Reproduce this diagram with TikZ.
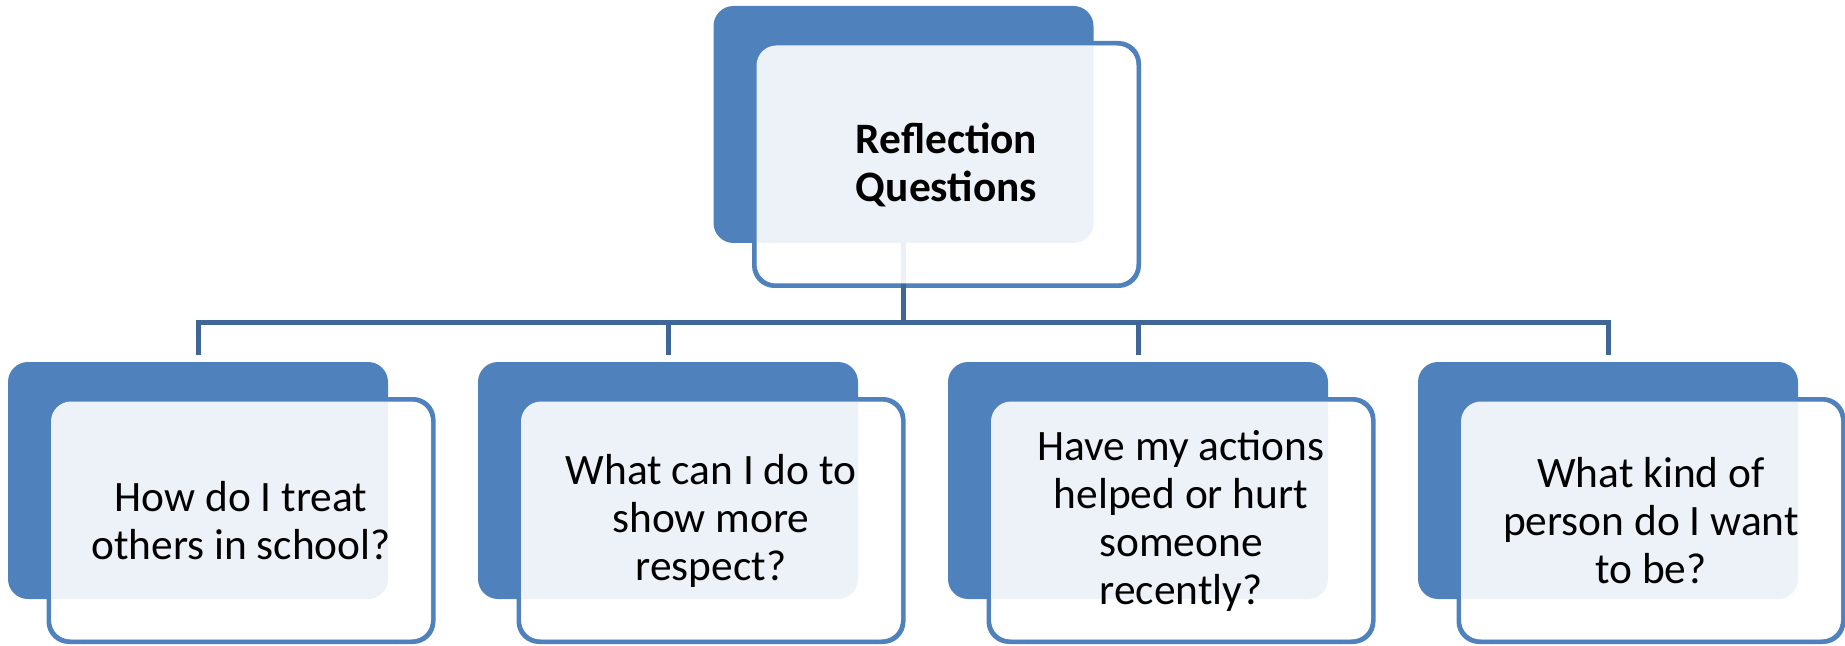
\documentclass[tikz,border=0pt]{standalone}
\usepackage{fontspec}
\setmainfont{Carlito}
\usetikzlibrary{positioning}
\definecolor{boxblue}{HTML}{4F81BD}
\definecolor{linkblue}{HTML}{3F6696}
\tikzset{
  backbox/.style={rectangle, rounded corners=10pt, fill=boxblue,
    minimum width=190pt, minimum height=118.5pt},
  frontbox/.style={rectangle, rounded corners=10pt, draw=boxblue, line width=2.5pt,
    fill=white, minimum width=192pt, minimum height=121pt},
  veil/.style={rectangle, rounded corners=10pt, fill=white, fill opacity=.9,
    text opacity=1, minimum width=190pt, minimum height=119pt, align=center,
    font=\fontsize{21.7pt}{24pt}\selectfont},
  link/.style={draw=linkblue, line width=2.5pt}
}
\begin{document}
\begin{tikzpicture}[x=0.5pt, y=-0.5pt]
    \useasboundingbox (0, 0) rectangle (1845, 646);
    % front frames first, the blue boxes lie on them
    \node[frontbox] (f0) at (946.5, 164.5) {};
    \node[frontbox] (f1) at (241, 520.5) {};
    \node[frontbox] (f2) at (711, 520.5) {};
    \node[frontbox] (f3) at (1181, 520.5) {};
    \node[frontbox] (f4) at (1651, 520.5) {};
    \node[backbox] (b0) at (903.5, 124.5) {};
    \node[backbox] (b1) at (198, 480.5) {};
    \node[backbox] (b2) at (668, 480.5) {};
    \node[backbox] (b3) at (1138, 480.5) {};
    \node[backbox] (b4) at (1608, 480.5) {};
    % connectors
    \coordinate (bus) at (903.5, 323);
    \draw[link] (b0.south) -- (bus);
    \draw[link, shorten >=3.5pt] (bus) -| (b1.north);
    \draw[link, shorten >=3.5pt] (bus) -| (b2.north);
    \draw[link, shorten >=3.5pt] (bus) -| (b3.north);
    \draw[link, shorten >=3.5pt] (bus) -| (b4.north);
    % texts
    \node[veil] (t0) at (f0) {\textbf{Reflection}\\\textbf{Questions}};
    \node[veil] (t1) at (f1) {How do I treat\\others in school?};
    \node[veil] (t2) at (f2) {What can I do to\\show more\\respect?};
    \node[veil] (t3) at (f3) {Have my actions\\helped or hurt\\someone\\recently?};
    \node[veil] (t4) at (f4) {What kind of\\person do I want\\to be?};
\end{tikzpicture}
\end{document}
